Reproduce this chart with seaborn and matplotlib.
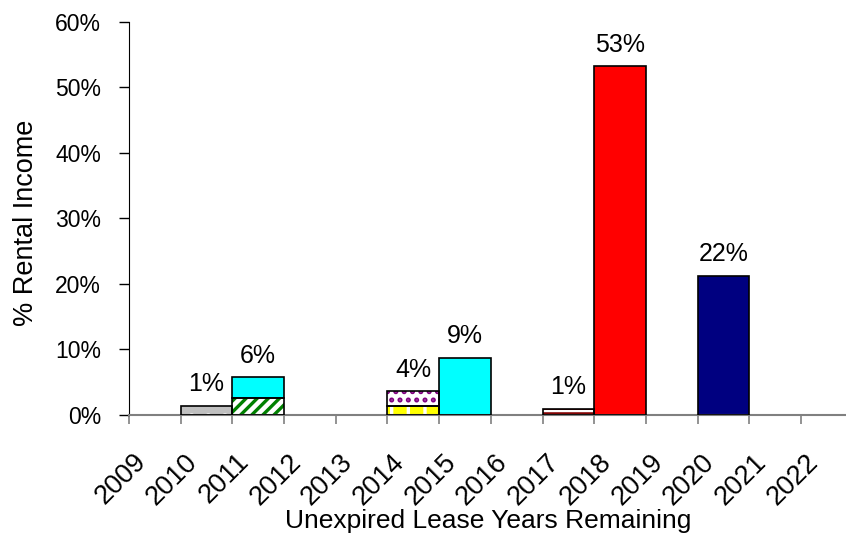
import numpy as np
import pandas as pd
import matplotlib
matplotlib.use("Agg")
import matplotlib.pyplot as plt
import seaborn as sns

sns.set_style("ticks")
plt.rcParams['font.family'] = ['Liberation Sans', 'DejaVu Sans']
plt.rcParams['hatch.linewidth'] = 2.4
plt.rcParams['text.color'] = 'black'
plt.rcParams['axes.labelcolor'] = 'black'
plt.rcParams['xtick.color'] = '#808080'
plt.rcParams['ytick.color'] = 'black'
plt.rcParams['xtick.labelcolor'] = 'black'
plt.rcParams['ytick.labelcolor'] = 'black'

# tick years along the axis (bars sit between two ticks)
years = list(range(2009, 2023))

# stacked segments: start year of the bar, segment height (%)
seg_start = [2010, 2011, 2011, 2014, 2014, 2015, 2017, 2018, 2020]
seg_value = [1.4, 2.65, 3.1, 1.3, 2.3, 8.7, 0.9, 53.2, 21.2]
seg_face = ['#c0c0c0', 'white', '#00ffff', '#ffff00', 'white',
            '#00ffff', 'white', '#ff0000', '#000080']
seg_hatch = ['.', '///', None, '|', '..', None, '---', None, None]
seg_hcolor = ['white', '#008000', None, 'white', '#800080',
              None, '#800000', None, None]

# labels shown above each bar
bar_start = [2010, 2011, 2014, 2015, 2017, 2018, 2020]
bar_label = ['1%', '6%', '4%', '9%', '1%', '53%', '22%']

df = pd.DataFrame({'start': seg_start, 'value': seg_value,
                   'face': seg_face, 'hatch': seg_hatch, 'hcolor': seg_hcolor})
df['bottom'] = df.groupby('start')['value'].cumsum() - df['value']
df['center'] = df['start'] + 0.5

fig = plt.figure(figsize=(8.46, 5.46), dpi=100)
ax = fig.add_axes([0.1525, 0.24, 0.8475, 0.72])

for _, r in df.iterrows():
    if r['hatch']:
        ax.bar(r['center'], r['value'], bottom=r['bottom'], width=1.0,
               color=r['face'], hatch=r['hatch'], edgecolor=r['hcolor'],
               linewidth=0, zorder=2)
    else:
        ax.bar(r['center'], r['value'], bottom=r['bottom'], width=1.0,
               color=r['face'], linewidth=0, zorder=2)
    ax.bar(r['center'], r['value'], bottom=r['bottom'], width=1.0,
           fill=False, edgecolor='black', linewidth=1.2, zorder=3)

totals = df.groupby('start')['value'].sum()
for s, lab in zip(bar_start, bar_label):
    ax.annotate(lab, (s + 0.5, totals[s]), xytext=(0, 7),
                textcoords='offset points', ha='center', va='bottom',
                fontsize=18)

ax.set_xlim(2009, 2022.87)
ax.set_ylim(0, 60)
ax.set_yticks(np.arange(0, 61, 10))
ax.set_yticklabels([f'{v}%' for v in range(0, 61, 10)], fontsize=16.5)
ax.set_xticks(years)
ax.set_xticklabels([])
# year labels, slanted, with their end just right of each tick
for y in years:
    ax.annotate(str(y), xy=(y, 0), xycoords=('data', 'axes fraction'),
                xytext=(13, -43), textcoords='offset pixels',
                rotation=45, rotation_mode='anchor',
                ha='right', va='center', fontsize=19.5)

ax.tick_params(axis='y', length=7, width=1, pad=13)
ax.tick_params(axis='x', length=6.5, width=1.2)
ax.spines['top'].set_visible(False)
ax.spines['right'].set_visible(False)
ax.spines['left'].set_color('black')
ax.spines['bottom'].set_color('#808080')
ax.spines['bottom'].set_linewidth(1.5)

ax.set_xlabel('Unexpired Lease Years Remaining', fontsize=19, va='top')
ax.xaxis.set_label_coords(0.5007, -0.24)
ax.set_ylabel('% Rental Income', fontsize=19.5)
ax.yaxis.set_label_coords(-0.125, 0.49)

fig.savefig('out.png', dpi=100)
